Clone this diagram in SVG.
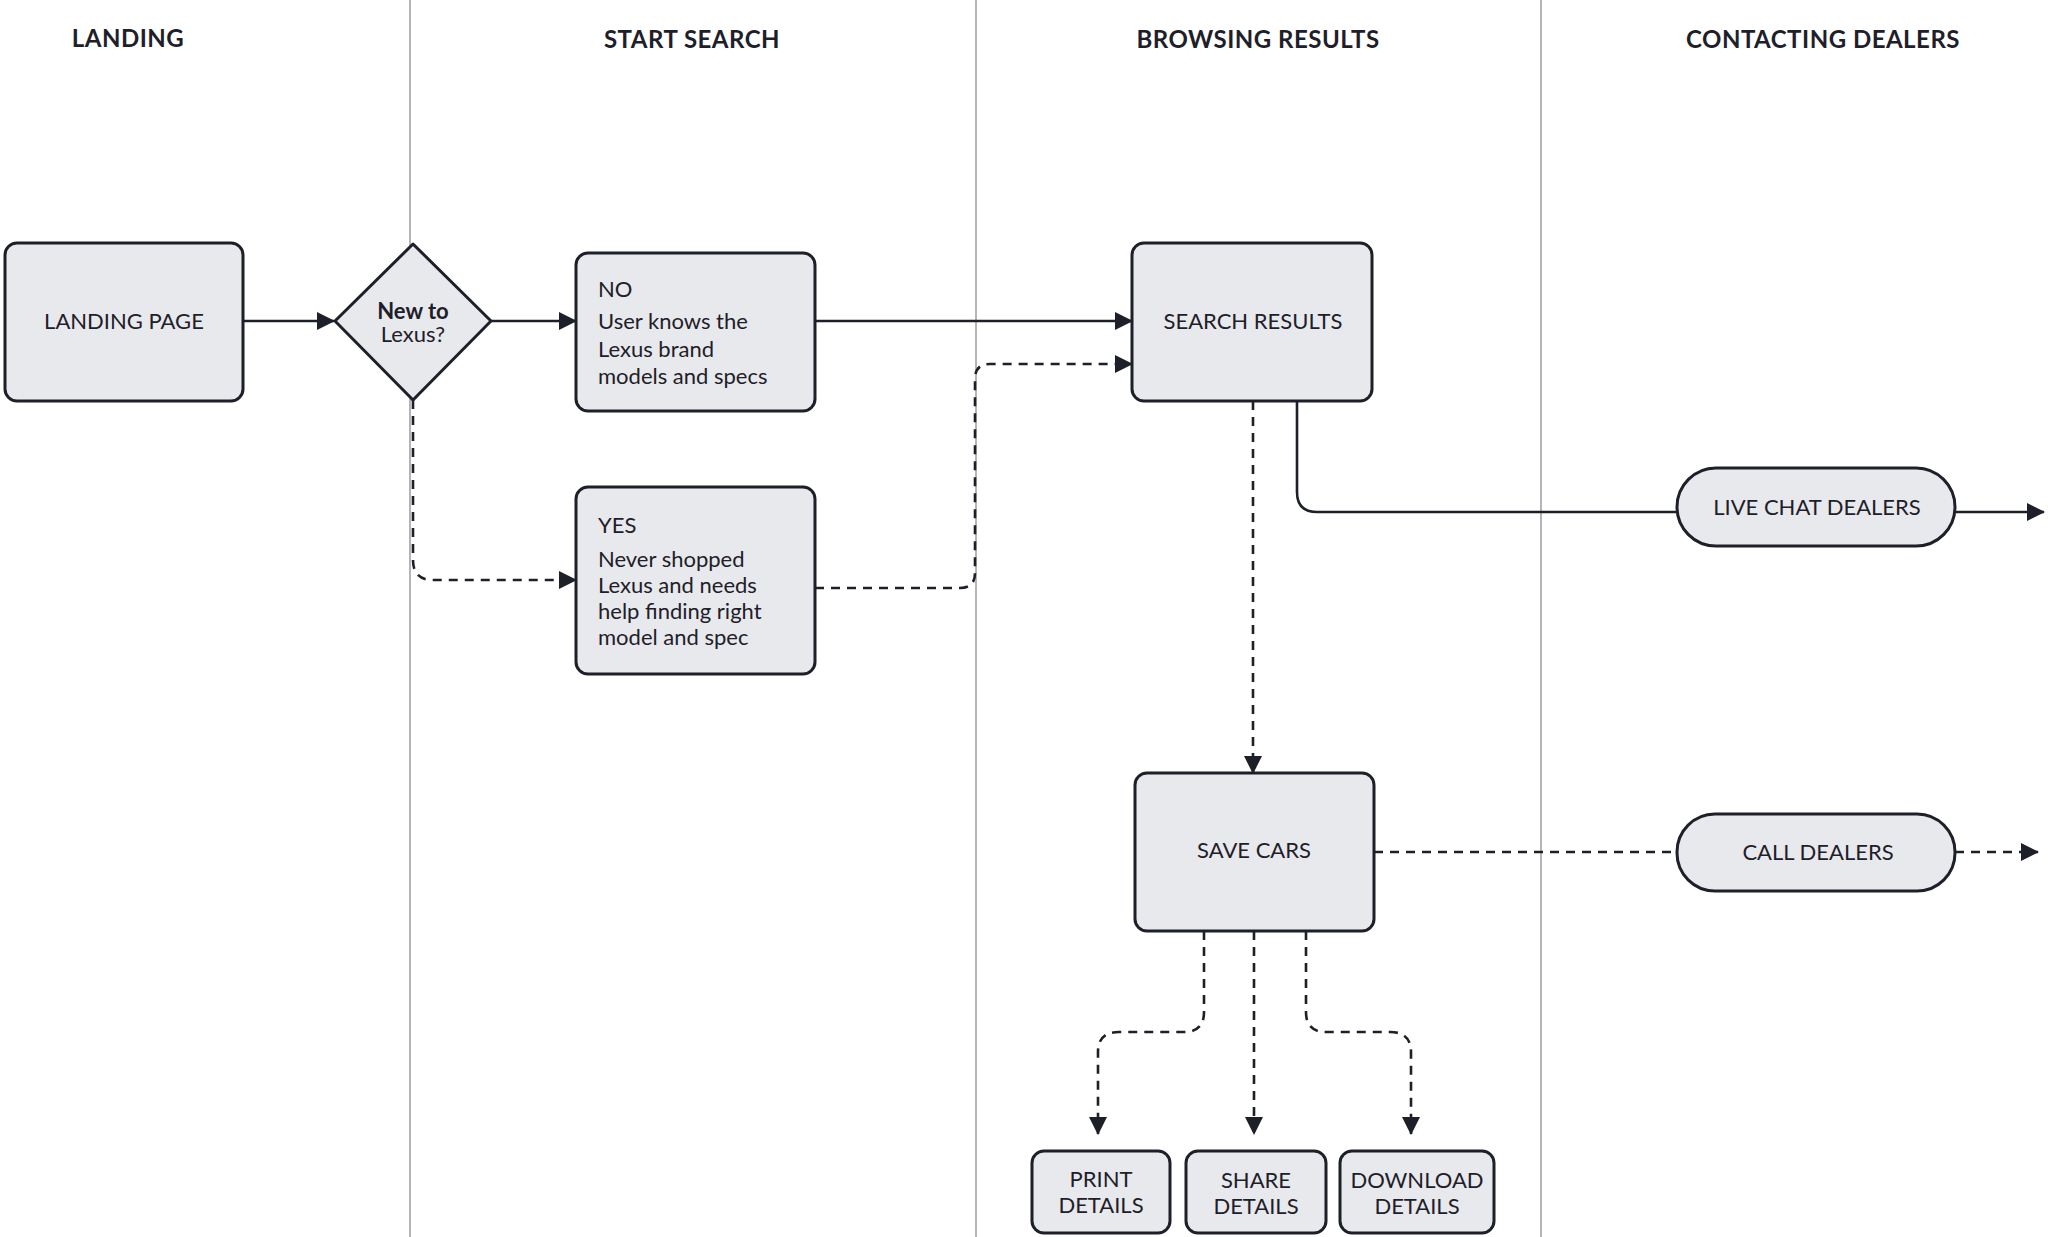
<svg xmlns="http://www.w3.org/2000/svg" width="2048" height="1237" viewBox="0 0 2048 1237">
<style>
.lane{stroke:#9a9ca3;stroke-width:1.5}
.h{font-family:"Lato","Liberation Sans",sans-serif;font-weight:bold;font-size:24px;fill:#1e2029;text-anchor:middle;letter-spacing:0.5px}
.box{fill:#e8e9ec;stroke:#1e2029;stroke-width:3}
.t{font-family:"Lato","Liberation Sans",sans-serif;font-size:22px;fill:#1e2029}
.c{text-anchor:middle}
.e{fill:none;stroke:#1e2029;stroke-width:2.6}
.d{stroke-dasharray:9 7}
</style>
<defs>
<marker id="a" markerUnits="userSpaceOnUse" markerWidth="20" markerHeight="20" refX="17" refY="10" orient="auto">
<path d="M0,1 L18,10 L0,19 Z" fill="#1e2029"/>
</marker>
</defs>
<rect width="2048" height="1237" fill="#fff"/>
<g id="lanes">
<line class="lane" x1="410" y1="0" x2="410" y2="1237"/>
<line class="lane" x1="976" y1="0" x2="976" y2="1237"/>
<line class="lane" x1="1541" y1="0" x2="1541" y2="1237"/>
<text class="h" x="128" y="47">LANDING</text>
<text class="h" x="692" y="48">START SEARCH</text>
<text class="h" x="1258" y="48">BROWSING RESULTS</text>
<text class="h" x="1823" y="48">CONTACTING DEALERS</text>
</g>
<g id="connectors">
<path class="e" marker-end="url(#a)" d="M243,321 H334"/>
<path class="e" marker-end="url(#a)" d="M491,321 H576"/>
<path class="e" marker-end="url(#a)" d="M815,321 H1132"/>
<path class="e d" marker-end="url(#a)" d="M413,400 V560 Q413,580 433,580 H576"/>
<path class="e d" marker-end="url(#a)" d="M815,588 H960 Q975,588 975,573 V379 Q975,364 990,364 H1132"/>
<path class="e" d="M1297,401 V492 Q1297,512 1317,512 H1677"/>
<path class="e" marker-end="url(#a)" d="M1955,512 H2044"/>
<path class="e d" marker-end="url(#a)" d="M1253,401 V773"/>
<path class="e d" d="M1374,852 H1677"/>
<path class="e d" marker-end="url(#a)" d="M1955,852 H2038"/>
<path class="e d" marker-end="url(#a)" d="M1204,931 V1012 Q1204,1032 1184,1032 H1119 Q1098,1032 1098,1052 V1134"/>
<path class="e d" marker-end="url(#a)" d="M1254,931 V1134"/>
<path class="e d" marker-end="url(#a)" d="M1306,931 V1012 Q1306,1032 1326,1032 H1390 Q1411,1032 1411,1052 V1134"/>
</g>
<g id="landing"><rect class="box" x="5" y="243" width="238" height="158" rx="12"/><text class="t c" x="124" y="329">LANDING PAGE</text></g>
<g id="decision"><path class="box" d="M413,244 L491,321 L413,400 L335,321 Z" stroke-linejoin="round"/><text class="t c" x="413" y="319" font-weight="bold" font-size="21">New to</text><text class="t c" x="413" y="342" font-size="21">Lexus?</text></g>
<g id="no"><rect class="box" x="576" y="253" width="239" height="158" rx="12"/>
<text class="t" x="598" y="297" font-size="20">NO</text>
<text class="t" x="598" y="329">User knows the</text><text class="t" x="598" y="357">Lexus brand</text><text class="t" x="598" y="384">models and specs</text></g>
<g id="yes"><rect class="box" x="576" y="487" width="239" height="187" rx="12"/>
<text class="t" x="598" y="533" font-size="19">YES</text>
<text class="t" x="598" y="567">Never shopped</text><text class="t" x="598" y="593">Lexus and needs</text><text class="t" x="598" y="619">help finding right</text><text class="t" x="598" y="645">model and spec</text></g>
<g id="search"><rect class="box" x="1132" y="243" width="240" height="158" rx="12"/><text class="t c" x="1253" y="329">SEARCH RESULTS</text></g>
<g id="save"><rect class="box" x="1135" y="773" width="239" height="158" rx="12"/><text class="t c" x="1254" y="858">SAVE CARS</text></g>
<g id="livechat"><rect class="box" x="1677" y="468" width="278" height="78" rx="39"/><text class="t c" x="1817" y="515">LIVE CHAT DEALERS</text></g>
<g id="call"><rect class="box" x="1677" y="814" width="278" height="77" rx="38"/><text class="t c" x="1818" y="860">CALL DEALERS</text></g>
<g id="print"><rect class="box" x="1032" y="1151" width="138" height="82" rx="12"/><text class="t c" x="1101" y="1187">PRINT</text><text class="t c" x="1101" y="1213">DETAILS</text></g>
<g id="share"><rect class="box" x="1186" y="1151" width="140" height="82" rx="12"/><text class="t c" x="1256" y="1188">SHARE</text><text class="t c" x="1256" y="1214">DETAILS</text></g>
<g id="download"><rect class="box" x="1340" y="1151" width="154" height="82" rx="12"/><text class="t c" x="1417" y="1188">DOWNLOAD</text><text class="t c" x="1417" y="1214">DETAILS</text></g>
</svg>
